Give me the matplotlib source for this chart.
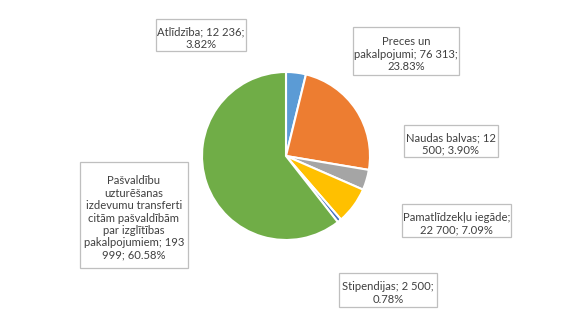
import textwrap
import matplotlib
matplotlib.use('Agg')
import matplotlib.pyplot as plt
from matplotlib.patches import Rectangle

# Expenditure breakdown
categories = ['Atlīdzība', 'Preces un pakalpojumi', 'Naudas balvas',
              'Pamatlīdzekļu iegāde', 'Stipendijas',
              'Pašvaldību uzturēšanas izdevumu transferti citām pašvaldībām '
              'par izglītības pakalpojumiem']
values = [12236, 76313, 12500, 22700, 2500, 193999]
colors = ['#5B9BD5', '#ED7D31', '#A5A5A5', '#FFC000', '#4472C4', '#70AD47']

# label boxes in pixel coords (left, top, right, bottom) and wrap widths
boxes = [(156, 19, 246, 51), (353, 27, 459, 75), (404, 125, 498, 157),
         (402, 204, 511, 237), (339, 273, 437, 307), (80, 162, 188, 268)]
wraps = [19, 20, 17, 21, 19, 19]

W, H = 576, 336
fig = plt.figure(figsize=(W / 100, H / 100), dpi=100)
ax = fig.add_axes([0, 0, 1, 1])

ax.pie(values, colors=colors, startangle=90, counterclock=False,
       center=(286, H - 156), radius=84, frame=True,
       wedgeprops=dict(edgecolor='white', linewidth=1.5))
ax.set_xlim(0, W)
ax.set_ylim(0, H)
ax.set_aspect('equal')
ax.axis('off')

total = sum(values)


def fmt_num(v):
    return f'{v:,}'.replace(',', ' ')


for name, v, (l, t, r, b), w in zip(categories, values, boxes, wraps):
    txt = f'{name}; {fmt_num(v)}; {v / total * 100:.2f}%'
    txt = textwrap.fill(txt, width=w)
    ax.add_patch(Rectangle((l, H - b), r - l, b - t, facecolor='white',
                           edgecolor='#BFBFBF', linewidth=0.9, zorder=3))
    ax.text((l + r) / 2, H - (t + b) / 2 - 3, txt, ha='center', va='center',
            fontsize=8.1, color='#404040', family='Lato',
            linespacing=1.15, zorder=4)

fig.savefig('out.png', dpi=100, facecolor='white')
